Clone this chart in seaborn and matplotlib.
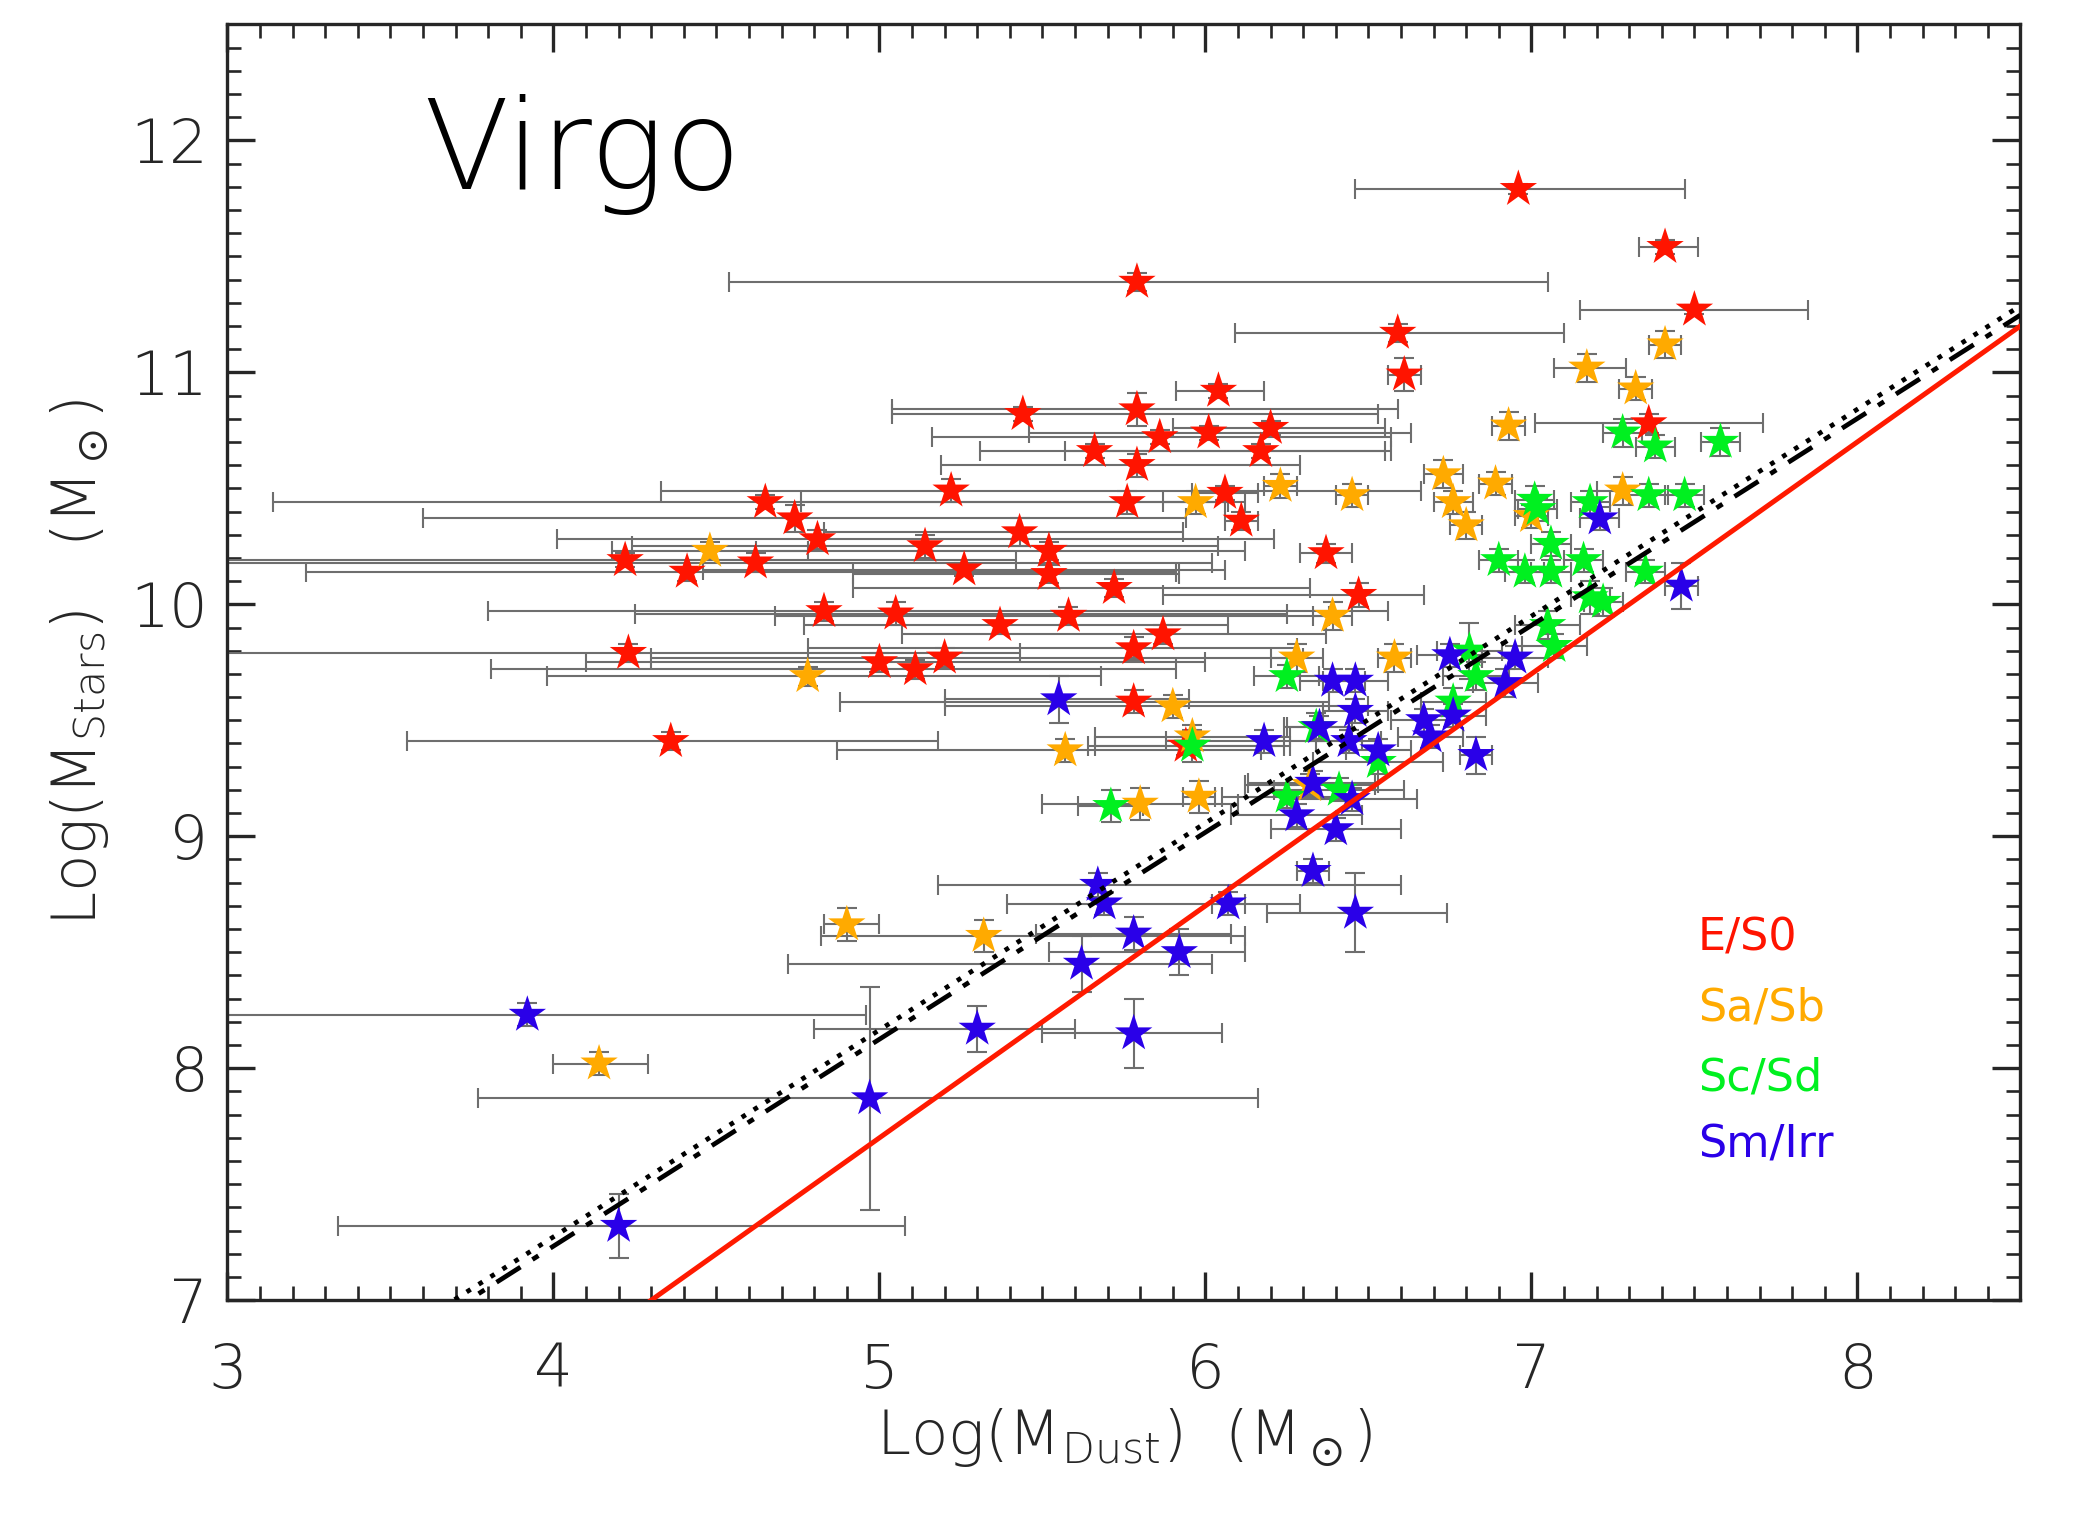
import numpy as np
import pandas as pd
import matplotlib
matplotlib.use("Agg")
import matplotlib.pyplot as plt
import seaborn as sns

# --- data: (log Mdust, log Mstars, xerr-, xerr+, yerr) ---
es0_x = [6.96, 7.41, 5.79, 7.50, 6.59, 6.61, 6.04, 5.44, 5.79, 5.66, 5.86, 6.01, 6.20, 6.17, 5.79, 5.22,
         6.06, 5.76, 4.65, 4.74, 4.81, 6.11, 5.43, 5.14, 5.52, 4.22, 4.62, 5.26, 5.52, 4.41, 6.37, 5.72,
         6.47, 4.83, 5.05, 5.58, 5.37, 5.87, 5.78, 4.23, 5.20, 5.00, 5.11, 5.78, 4.36, 5.94, 7.36]
es0_y = [11.79, 11.54, 11.39, 11.27, 11.17, 10.99, 10.92, 10.82, 10.84, 10.66, 10.72, 10.74, 10.76, 10.66,
         10.60, 10.49, 10.48, 10.44, 10.44, 10.37, 10.28, 10.36, 10.31, 10.25, 10.23, 10.19, 10.18, 10.15,
         10.13, 10.14, 10.22, 10.07, 10.04, 9.97, 9.96, 9.95, 9.91, 9.87, 9.81, 9.79, 9.77, 9.75, 9.72,
         9.58, 9.41, 9.39, 10.78]
es0_xlo = [0.50, 0.08, 1.25, 0.35, 0.50, 0.05, 0.13, 0.40, 0.75, 0.35, 0.70, 0.55, 0.30, 0.60, 0.60, 0.89,
           0.10, 1.00, 1.51, 1.14, 0.80, 0.05, 0.60, 0.90, 0.90, 1.30, 1.70, 0.80, 0.60, 1.17, 0.08, 0.80,
           0.60, 1.03, 0.80, 0.90, 0.60, 0.80, 1.00, 1.40, 0.90, 0.90, 1.30, 0.90, 0.81, 0.30, 0.35]
es0_xhi = [0.51, 0.10, 1.26, 0.35, 0.51, 0.05, 0.14, 1.09, 0.80, 0.89, 0.71, 0.62, 0.35, 0.40, 0.50, 1.44,
           0.10, 0.30, 1.47, 1.20, 1.40, 0.05, 0.50, 0.90, 0.60, 1.20, 1.40, 0.80, 0.40, 1.50, 0.08, 0.60,
           0.20, 1.73, 1.20, 0.80, 0.70, 0.50, 0.50, 1.20, 1.10, 1.00, 0.80, 0.60, 0.82, 0.30, 0.35]
es0_ye = [0.02, 0.03, 0.04, 0.02, 0.04, 0.07, 0.03, 0.03, 0.07, 0.03, 0.03, 0.03, 0.03, 0.03, 0.05, 0.05,
          0.03, 0.05, 0.03, 0.06, 0.04, 0.04, 0.06, 0.05, 0.04, 0.03, 0.04, 0.03, 0.04, 0.04, 0.04, 0.04,
          0.05, 0.04, 0.05, 0.04, 0.04, 0.04, 0.05, 0.04, 0.04, 0.04, 0.04, 0.05, 0.04, 0.04, 0.04]

sab_x = [7.17, 7.41, 7.32, 6.93, 6.73, 6.76, 6.80, 6.89, 6.45, 6.23, 5.97, 7.28, 4.48, 6.39, 6.28, 6.58,
         4.78, 5.90, 5.57, 5.96, 5.80, 5.98, 4.90, 5.32, 4.14, 7.00, 6.32]
sab_y = [11.02, 11.12, 10.93, 10.77, 10.56, 10.44, 10.34, 10.52, 10.47, 10.51, 10.44, 10.49, 10.23, 9.95,
         9.77, 9.77, 9.69, 9.56, 9.37, 9.43, 9.14, 9.17, 8.62, 8.57, 8.02, 10.38, 9.22]
sab_xlo = [0.10, 0.05, 0.05, 0.05, 0.06, 0.06, 0.05, 0.05, 0.05, 0.05, 0.10, 0.08, 0.30, 0.06, 0.08, 0.05,
           0.80, 0.70, 0.70, 0.30, 0.30, 0.05, 0.07, 0.50, 0.14, 0.05, 0.20]
sab_xhi = [0.12, 0.05, 0.05, 0.05, 0.06, 0.06, 0.05, 0.05, 0.05, 0.05, 0.10, 0.08, 0.30, 0.06, 0.08, 0.05,
           0.90, 0.60, 0.60, 0.30, 0.30, 0.05, 0.10, 0.80, 0.15, 0.05, 0.20]
sab_ye = [0.06, 0.06, 0.05, 0.06, 0.06, 0.05, 0.06, 0.05, 0.05, 0.05, 0.05, 0.06, 0.04, 0.06, 0.06, 0.06,
          0.04, 0.05, 0.05, 0.05, 0.07, 0.07, 0.07, 0.07, 0.05, 0.05, 0.05]

scd_x = [7.58, 7.28, 7.38, 7.01, 7.18, 7.36, 7.47, 7.02, 7.06, 6.90, 6.98, 7.06, 7.16, 7.18, 7.22, 7.35,
         7.05, 7.07, 6.25, 6.81, 6.83, 6.76, 6.34, 5.96, 5.71, 6.25, 6.53, 6.41]
scd_y = [10.70, 10.74, 10.68, 10.45, 10.44, 10.47, 10.47, 10.41, 10.26, 10.19, 10.14, 10.14, 10.19, 10.03,
         10.01, 10.14, 9.91, 9.82, 9.69, 9.80, 9.69, 9.58, 9.47, 9.39, 9.13, 9.17, 9.32, 9.20]
scd_xlo = [0.06] * 16 + [0.10, 0.10, 0.10, 0.10, 0.10, 0.10, 0.10, 0.30, 0.10, 0.20, 0.20, 0.20]
scd_xhi = [0.06] * 16 + [0.10, 0.10, 0.10, 0.10, 0.10, 0.10, 0.10, 0.30, 0.10, 0.20, 0.20, 0.20]
scd_ye = [0.06, 0.06, 0.05, 0.06, 0.05, 0.05, 0.05, 0.05, 0.05, 0.05, 0.05, 0.05, 0.05, 0.07,
          0.06, 0.05, 0.06, 0.05, 0.05, 0.12, 0.06, 0.06, 0.06, 0.07, 0.07, 0.05, 0.05, 0.05]

smi_x = [7.21, 7.46, 6.75, 6.95, 6.92, 6.39, 6.46, 5.55, 6.46, 6.35, 6.67, 6.69, 6.76, 6.18, 6.44, 6.53,
         6.83, 6.33, 6.45, 6.28, 6.40, 6.33, 5.67, 5.69, 6.07, 6.46, 5.78, 5.62, 5.92, 3.92, 5.30, 5.78,
         4.97, 4.20]
smi_y = [10.37, 10.08, 9.78, 9.77, 9.66, 9.67, 9.67, 9.59, 9.54, 9.47, 9.50, 9.43, 9.52, 9.41, 9.41, 9.37,
         9.35, 9.23, 9.16, 9.09, 9.03, 8.85, 8.79, 8.71, 8.71, 8.67, 8.58, 8.45, 8.50, 8.23, 8.17, 8.15,
         7.87, 7.32]
smi_xlo = [0.06, 0.05, 0.10, 0.10, 0.10, 0.10, 0.10, 0.35, 0.10, 0.10, 0.10, 0.10, 0.10, 0.30, 0.10, 0.10,
           0.05, 0.20, 0.20, 0.20, 0.20, 0.05, 0.49, 0.30, 0.05, 0.27, 0.30, 0.90, 0.40, 1.00, 0.50, 0.28,
           1.20, 0.86]
smi_xhi = [0.06, 0.05, 0.10, 0.10, 0.10, 0.10, 0.10, 0.40, 0.10, 0.10, 0.10, 0.10, 0.10, 0.30, 0.10, 0.10,
           0.05, 0.20, 0.20, 0.20, 0.20, 0.05, 0.93, 0.60, 0.05, 0.28, 0.30, 0.40, 0.20, 1.04, 0.30, 0.27,
           1.19, 0.88]
smi_ye = [0.05, 0.10, 0.05, 0.05, 0.06, 0.05, 0.05, 0.10, 0.05, 0.05, 0.05, 0.05, 0.05, 0.05, 0.05, 0.05,
          0.08, 0.05, 0.05, 0.05, 0.05, 0.05, 0.05, 0.05, 0.05, 0.17, 0.07, 0.12, 0.10, 0.05, 0.10, 0.15,
          0.48, 0.14]

types = ["E/S0", "Sa/Sb", "Sc/Sd", "Sm/Irr"]
colors = {"E/S0": "#ff1400", "Sa/Sb": "#ffaa00", "Sc/Sd": "#00f020", "Sm/Irr": "#2a00e8"}

# fitted relations
line_x = [3.0, 8.5]
red_fit = (1.00, 2.70)
dot_fit = (0.892, 3.705)
dashdot_fit = (0.892, 3.665)

frames = []
for t, xs, ys, xl, xh, ye in [
    ("E/S0", es0_x, es0_y, es0_xlo, es0_xhi, es0_ye),
    ("Sa/Sb", sab_x, sab_y, sab_xlo, sab_xhi, sab_ye),
    ("Sc/Sd", scd_x, scd_y, scd_xlo, scd_xhi, scd_ye),
    ("Sm/Irr", smi_x, smi_y, smi_xlo, smi_xhi, smi_ye),
]:
    frames.append(pd.DataFrame({"mdust": xs, "mstar": ys, "xlo": xl, "xhi": xh, "ye": ye, "type": t}))
df = pd.concat(frames, ignore_index=True)

sns.set_style("ticks")
plt.rcParams.update({
    "font.family": ["DejaVu Sans"],
    "font.weight": "light",
    "axes.labelweight": "light",
    "axes.linewidth": 2.4,
    "xtick.direction": "in",
    "ytick.direction": "in",
    "xtick.top": True,
    "ytick.right": True,
    "xtick.major.size": 20,
    "ytick.major.size": 20,
    "xtick.minor.size": 10,
    "ytick.minor.size": 10,
    "xtick.major.width": 2.4,
    "ytick.major.width": 2.4,
    "xtick.minor.width": 1.9,
    "ytick.minor.width": 1.9,
    "mathtext.default": "regular",
})

fig = plt.figure(figsize=(20.98, 15.25), dpi=100)
ax = fig.add_axes([0.1084, 0.1474, 0.8546, 0.8366])

ax.errorbar(df["mdust"], df["mstar"], xerr=[df["xlo"], df["xhi"]], yerr=df["ye"],
            fmt="none", ecolor="#6e6e6e", elinewidth=1.5, capsize=7, capthick=1.5, zorder=2)

sns.scatterplot(data=df, x="mdust", y="mstar", hue="type", hue_order=types, palette=colors,
                marker="*", s=800, edgecolor="none", linewidth=0, legend=False, ax=ax, zorder=3)

lx = np.array(line_x)
ax.plot(lx, dot_fit[0] * lx + dot_fit[1], color="black", lw=3.4, ls=(0, (1, 2)), zorder=4)
ax.plot(lx, dashdot_fit[0] * lx + dashdot_fit[1], color="black", lw=3.4, ls=(0, (6, 3, 1.5, 3)), zorder=4)
ax.plot(lx, red_fit[0] * lx + red_fit[1], color="#ff1a00", lw=3.6, zorder=4)

ax.set_xlim(3, 8.5)
ax.set_ylim(7, 12.5)
ax.set_xticks([3, 4, 5, 6, 7, 8])
ax.set_yticks([7, 8, 9, 10, 11, 12])
ax.set_xticks(np.arange(3, 8.51, 0.1), minor=True)
ax.set_yticks(np.arange(7, 12.51, 0.1), minor=True)
ax.tick_params(axis="x", which="major", labelsize=44, pad=30)
ax.tick_params(axis="y", which="major", labelsize=44, pad=14)

ax.set_xlabel(r"Log(M$_{Dust}$)  (M$_\odot$)", fontsize=44, fontweight="light", labelpad=4)
ax.set_ylabel(r"Log(M$_{Stars}$)   (M$_\odot$)", fontsize=44, fontweight="light", labelpad=14)

ax.text(3.6, 11.79, "Virgo", fontsize=90, fontweight="light", color="black", ha="left", va="baseline")

legend_y = [8.56, 8.26, 7.96, 7.67]
for t, yy in zip(types, legend_y):
    ax.text(7.51, yy, t, fontsize=32, fontweight="normal", color=colors[t], ha="left", va="center")

for s in ax.spines.values():
    s.set_visible(True)

fig.savefig("out.png", dpi=100)
